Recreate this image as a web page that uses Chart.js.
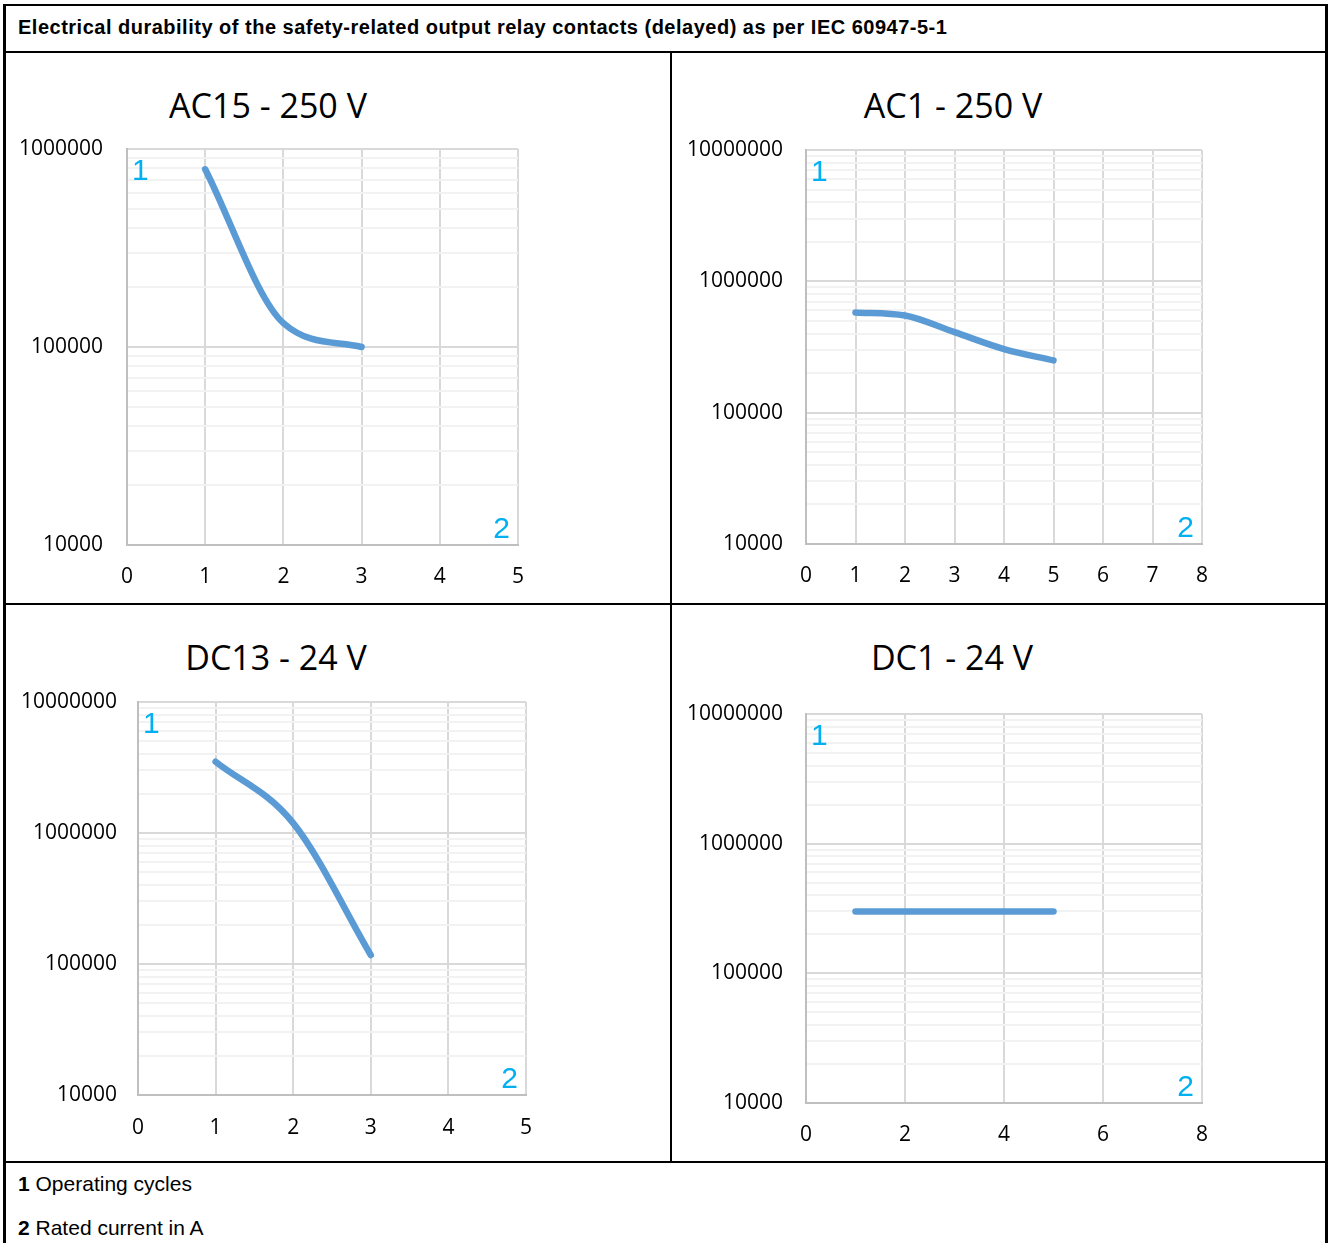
<!DOCTYPE html>
<html><head><meta charset="utf-8">
<script src="https://cdn.jsdelivr.net/npm/chart.js@4.4.1/dist/chart.umd.min.js"></script>
<style>
html,body{margin:0;padding:0;background:#fff;}
body{width:1328px;height:1243px;position:relative;overflow:hidden;font-family:"Liberation Sans",Arial,sans-serif;color:#000;}
.ln{position:absolute;background:#000;}
.hdr{position:absolute;left:18px;top:15px;font-weight:bold;font-size:20px;line-height:24px;letter-spacing:0.5px;white-space:nowrap;}
.ttl{position:absolute;width:400px;text-align:center;font-family:"Open Sans";font-size:34px;line-height:40px;white-space:nowrap;}
.cv{position:absolute;}
.leg{position:absolute;left:18px;font-size:21px;line-height:24px;white-space:nowrap;}
</style>
</head><body>
<div class="ln" style="left:3px;top:4px;width:1324px;height:2px"></div>
<div class="ln" style="left:3px;top:4px;width:3px;height:1239px"></div>
<div class="ln" style="left:1325px;top:4px;width:3px;height:1239px"></div>
<div class="ln" style="left:3px;top:51px;width:1324px;height:2px"></div>
<div class="ln" style="left:670px;top:51px;width:2px;height:1111px"></div>
<div class="ln" style="left:3px;top:603px;width:1324px;height:2px"></div>
<div class="ln" style="left:3px;top:1161px;width:1324px;height:2px"></div>
<div class="hdr" id="hdr"></div>
<div class="ttl" id="t1" style="left:68px;top:85px"></div>
<div class="ttl" id="t2" style="left:753px;top:85px"></div>
<div class="ttl" id="t3" style="left:76px;top:637px"></div>
<div class="ttl" id="t4" style="left:752px;top:637px"></div>
<div class="cv" style="left:6px;top:53px;width:664px;height:550px"><canvas id="c1"></canvas></div>
<div class="cv" style="left:672px;top:53px;width:653px;height:550px"><canvas id="c2"></canvas></div>
<div class="cv" style="left:6px;top:605px;width:664px;height:555px"><canvas id="c3"></canvas></div>
<div class="cv" style="left:672px;top:605px;width:653px;height:555px"><canvas id="c4"></canvas></div>
<div class="leg" style="top:1172px"><b>1</b> Operating cycles</div>
<div class="leg" style="top:1216px"><b>2</b> Rated current in A</div>
<script>
// ---- data ----
const headerText = "Electrical durability of the safety-related output relay contacts (delayed) as per IEC 60947-5-1";
const chartTitles = ["AC15 - 250 V", "AC1 - 250 V", "DC13 - 24 V", "DC1 - 24 V"];
const cornerKeys = ["1", "2"];

const ac15X = [1, 2, 3];
const ac15Y = [790000, 132000, 100000];
const ac1X = [1, 2, 3, 4, 5];
const ac1Y = [580000, 550000, 410000, 305000, 250000];
const dc13X = [1, 2, 3];
const dc13Y = [3500000, 1190000, 117000];
const dc1X = [1, 2, 3, 4, 5];
const dc1Y = [300000, 300000, 300000, 300000, 300000];

const ac15YTicks = [10000, 100000, 1000000];
const ac1YTicks = [10000, 100000, 1000000, 10000000];
const dc13YTicks = [10000, 100000, 1000000, 10000000];
const dc1YTicks = [10000, 100000, 1000000, 10000000];

const ac15XMax = 5, ac15XStep = 1;
const ac1XMax = 8, ac1XStep = 1;
const dc13XMax = 5, dc13XStep = 1;
const dc1XMax = 8, dc1XStep = 2;

// ---- page text ----
document.getElementById('hdr').textContent = headerText;
chartTitles.forEach((t, i) => document.getElementById('t' + (i + 1)).textContent = t);

function isPow10(v) { const l = Math.log10(v); return Math.abs(l - Math.round(l)) < 1e-9; }
function minorList(majors) {
  const out = [];
  for (let i = 0; i < majors.length - 1; i++) for (let k = 1; k <= 9; k++) out.push(majors[i] * k);
  out.push(majors[majors.length - 1]);
  return out;
}

const cornerPlugin = {
  id: 'cornerKeys',
  afterDatasetsDraw(chart) {
    const a = chart.chartArea, ctx = chart.ctx;
    ctx.save();
    ctx.font = '30px "Liberation Sans", Arial';
    ctx.fillStyle = '#00b0f0';
    ctx.textBaseline = 'alphabetic';
    ctx.textAlign = 'left';
    ctx.fillText(cornerKeys[0], a.left + 5, a.top + 31);
    ctx.textAlign = 'right';
    ctx.fillText(cornerKeys[1], a.right - 8, a.bottom - 7);
    ctx.restore();
  }
};

function makeChart(id, xs, ys, yTicks, xMax, xStep, geo) {
  const tickFont = { family: 'Open Sans', size: 21 };
  new Chart(document.getElementById(id), {
    type: 'line',
    data: { datasets: [{
      data: xs.map((x, i) => ({ x: x, y: ys[i] })),
      borderColor: '#5b9bd5', borderWidth: 6.5,
      borderCapStyle: 'round', borderJoinStyle: 'round',
      pointRadius: 0, cubicInterpolationMode: 'monotone', fill: false
    }] },
    options: {
      responsive: true, maintainAspectRatio: false, animation: false,
      layout: { padding: { left: 0, top: geo.top, right: geo.right, bottom: 0 } },
      plugins: { legend: { display: false }, tooltip: { enabled: false }, title: { display: false } },
      scales: {
        x: {
          type: 'linear', min: 0, max: xMax,
          ticks: { stepSize: xStep, color: '#000', font: tickFont, padding: geo.xp, maxRotation: 0 },
          grid: { color: '#d9d9d9', lineWidth: 2, drawTicks: false },
          border: { color: '#bfbfbf', width: 2 },
          afterFit(s) { s.height = geo.xh; }
        },
        y: {
          type: 'logarithmic', min: yTicks[0], max: yTicks[yTicks.length - 1],
          afterBuildTicks(s) { s.ticks = minorList(yTicks).map(v => ({ value: v })); },
          ticks: { autoSkip: false, color: '#000', font: tickFont, padding: geo.yp,
                   callback: (v) => isPow10(v) ? String(Math.round(v)) : '' },
          grid: { drawTicks: false, lineWidth: 2,
                  color: (c) => (c.tick && isPow10(c.tick.value)) ? '#d9d9d9' : '#f2f2f2' },
          border: { color: '#bfbfbf', width: 2 },
          afterFit(s) { s.width = geo.left; }
        }
      }
    },
    plugins: [cornerPlugin]
  });
}

makeChart('c1', ac15X, ac15Y, ac15YTicks, ac15XMax, ac15XStep, { left: 121, top: 96, right: 152, xh: 58, yp: 24, xp: 19 });
makeChart('c2', ac1X, ac1Y, ac1YTicks, ac1XMax, ac1XStep, { left: 134, top: 97, right: 123, xh: 59, yp: 23, xp: 19 });
makeChart('c3', dc13X, dc13Y, dc13YTicks, dc13XMax, dc13XStep, { left: 132, top: 97, right: 144, xh: 65, yp: 21, xp: 20 });
makeChart('c4', dc1X, dc1Y, dc1YTicks, dc1XMax, dc1XStep, { left: 134, top: 109, right: 123, xh: 57, yp: 23, xp: 19 });
</script>
</body></html>
